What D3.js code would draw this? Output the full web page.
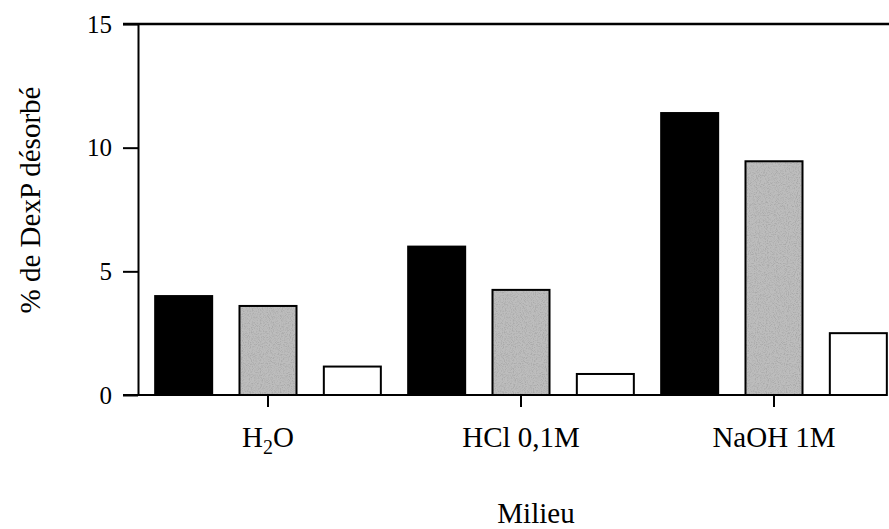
<!DOCTYPE html>
<html>
<head>
<meta charset="utf-8">
<script src="https://cdn.jsdelivr.net/npm/d3@7"></script>
<style>
  body { margin: 0; background: #fff; }
  svg text { font-family: "Liberation Serif", "DejaVu Serif", serif; fill: #000; }
  .axis path, .axis line { stroke: #000; stroke-width: 2px; }
</style>
</head>
<body>
<div id="chart"></div>
<script>
// data
const milieux = ["H2O", "HCl 0,1M", "NaOH 1M"];
const series = ["noir", "gris", "blanc"];
const noir = [4.0, 6.0, 11.4];
const gris = [3.6, 4.25, 9.45];
const blanc = [1.15, 0.85, 2.5];
const yTicks = [0, 5, 10, 15];

const width = 889, height = 529;
const rows = milieux.map((m, i) => ({ milieu: m, noir: noir[i], gris: gris[i], blanc: blanc[i] }));

const svg = d3.select("#chart").append("svg")
  .attr("width", width)
  .attr("height", height);

// speckled grey like the scanned stipple
const grain = svg.append("defs").append("filter")
  .attr("id", "grain")
  .attr("x", 0).attr("y", 0).attr("width", 1).attr("height", 1);
grain.append("feTurbulence")
  .attr("type", "fractalNoise")
  .attr("baseFrequency", 0.9)
  .attr("numOctaves", 2)
  .attr("seed", 4)
  .attr("result", "noise");
grain.append("feColorMatrix")
  .attr("in", "noise")
  .attr("type", "matrix")
  .attr("values", "0 0 0 0 0.4  0 0 0 0 0.4  0 0 0 0 0.4  -3 0 0 0 1.7")
  .attr("result", "dots");
grain.append("feComposite")
  .attr("in", "dots").attr("in2", "SourceAlpha").attr("operator", "in")
  .attr("result", "dotsIn");
const merge = grain.append("feMerge");
merge.append("feMergeNode").attr("in", "SourceGraphic");
merge.append("feMergeNode").attr("in", "dotsIn");

const y = d3.scaleLinear().domain([0, 15]).range([395, 24]);

const x0 = d3.scaleBand().domain(milieux).range([141.5, 900.5]);
const x1 = d3.scaleBand().domain(series).range([0, x0.bandwidth()])
  .paddingInner(0.324).paddingOuter(0.162);

const fills = { noir: "#000", gris: "#bdbdbd", blanc: "#fff" };

// bars
const groups = svg.append("g").selectAll("g")
  .data(rows)
  .join("g")
  .attr("transform", d => `translate(${x0(d.milieu)},0)`);

const barData = d => series.map(s => ({ key: s, value: d[s] }));

// fills (grey gets the grain), then outlines on top
groups.selectAll("rect.fill")
  .data(barData)
  .join("rect")
  .attr("class", "fill")
  .attr("x", d => x1(d.key))
  .attr("y", d => y(d.value))
  .attr("width", x1.bandwidth())
  .attr("height", d => y(0) - y(d.value))
  .attr("fill", d => fills[d.key])
  .attr("filter", d => d.key === "gris" ? "url(#grain)" : null);

groups.selectAll("rect.outline")
  .data(barData)
  .join("rect")
  .attr("class", "outline")
  .attr("x", d => x1(d.key))
  .attr("y", d => y(d.value))
  .attr("width", x1.bandwidth())
  .attr("height", d => y(0) - y(d.value))
  .attr("fill", "none")
  .attr("stroke", "#000")
  .attr("stroke-width", 2);

// frame lines: top at 15 and baseline at 0
svg.append("line")
  .attr("x1", 123).attr("x2", 889)
  .attr("y1", y(15)).attr("y2", y(15))
  .attr("stroke", "#000").attr("stroke-width", 2.5);

svg.append("line")
  .attr("x1", 123).attr("x2", 886)
  .attr("y1", y(0)).attr("y2", y(0))
  .attr("stroke", "#000").attr("stroke-width", 2);

// y axis
const yAxis = svg.append("g")
  .attr("class", "axis")
  .attr("transform", "translate(138,0)")
  .call(d3.axisLeft(y).tickValues(yTicks).tickSize(15).tickSizeOuter(0).tickPadding(11));
yAxis.selectAll("text").style("font-size", "25px");

// x axis
const xAxis = svg.append("g")
  .attr("class", "axis")
  .attr("transform", `translate(0,${y(0)})`)
  .call(d3.axisBottom(x0).tickSize(12).tickSizeOuter(0).tickPadding(0));
xAxis.select(".domain").remove();
xAxis.selectAll("text")
  .attr("dy", null)
  .attr("y", 52)
  .style("font-size", "29px")
  .each(function(d) {
    const t = d3.select(this);
    if (d === "H2O") {
      t.text(null);
      t.append("tspan").text("H");
      t.append("tspan").attr("dy", 7).style("font-size", "20px").text("2");
      t.append("tspan").attr("dy", -7).text("O");
    }
  });

// axis titles
svg.append("text")
  .attr("transform", "translate(40,200) rotate(-90)")
  .attr("text-anchor", "middle")
  .style("font-size", "29px")
  .text("% de DexP désorbé");

svg.append("text")
  .attr("x", 536)
  .attr("y", 523)
  .attr("text-anchor", "middle")
  .style("font-size", "29px")
  .text("Milieu");
</script>
</body>
</html>
